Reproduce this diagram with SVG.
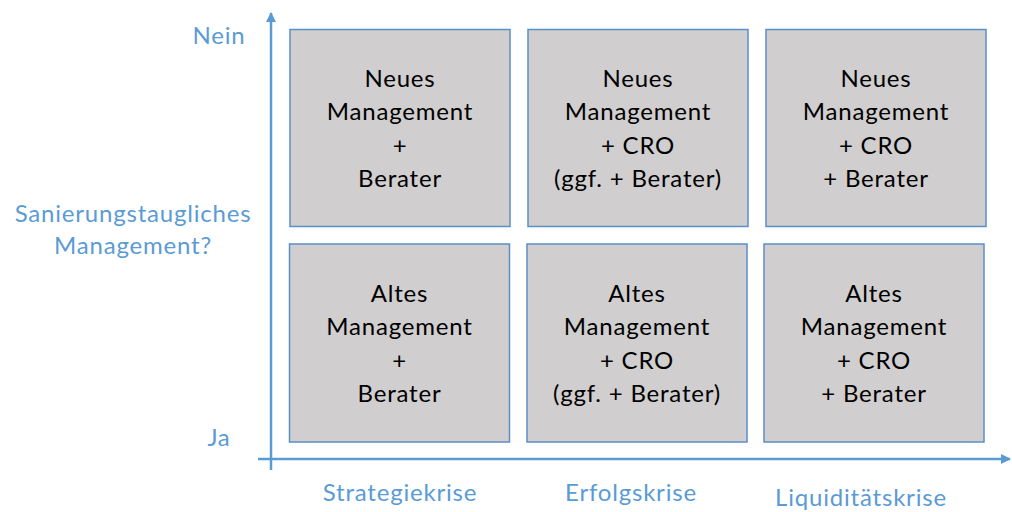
<svg xmlns="http://www.w3.org/2000/svg" width="1012" height="512" viewBox="0 0 1012 512">
<defs>
<marker id="arr" viewBox="0 0 10 10" refX="9" refY="5" markerWidth="4" markerHeight="4" orient="auto" markerUnits="strokeWidth">
<path d="M0,0 L10,5 L0,10 z" fill="#5B9BD5"/>
</marker>
<style>
.box{fill:#D0CECE;stroke:#5B8FC8;stroke-width:1.5}
.t{font-family:Lato,"Open Sans",sans-serif;font-size:24px;letter-spacing:0.8px;fill:#000;text-anchor:middle}
.ax{font-family:Lato,"Open Sans",sans-serif;font-size:24px;letter-spacing:0.8px;fill:#5B9BD5;text-anchor:middle}
.axis{stroke:#5B9BD5;stroke-width:2.5;fill:none}
</style>
</defs>
<rect width="1012" height="512" fill="#fff"/>
<g id="connectors">
<line class="axis" x1="271" y1="470" x2="271" y2="13" marker-end="url(#arr)"/>
<line class="axis" x1="258" y1="459" x2="1010" y2="459" marker-end="url(#arr)"/>
</g>
<g id="labels">
<text class="ax" x="219" y="44">Nein</text>
<text class="ax" x="219" y="446">Ja</text>
<text class="ax" x="133" y="222">Sanierungstaugliches</text>
<text class="ax" x="133" y="254">Management?</text>
<text class="ax" x="400" y="501">Strategiekrise</text>
<text class="ax" x="631" y="501">Erfolgskrise</text>
<text class="ax" x="861" y="506">Liquiditätskrise</text>
</g>
<g id="n1"><rect class="box" x="290" y="29.5" width="220" height="197"/>
<text class="t" x="400" y="87">Neues</text><text class="t" x="400" y="120">Management</text><text class="t" x="400" y="153.5">+</text><text class="t" x="400" y="187">Berater</text></g>
<g id="n2"><rect class="box" x="528" y="29.5" width="220" height="197"/>
<text class="t" x="638" y="87">Neues</text><text class="t" x="638" y="120">Management</text><text class="t" x="638" y="153.5">+ CRO</text><text class="t" x="638" y="187">(ggf. + Berater)</text></g>
<g id="n3"><rect class="box" x="766" y="29.5" width="220" height="197"/>
<text class="t" x="876" y="87">Neues</text><text class="t" x="876" y="120">Management</text><text class="t" x="876" y="153.5">+ CRO</text><text class="t" x="876" y="187">+ Berater</text></g>
<g id="n4"><rect class="box" x="289.5" y="244" width="220" height="198"/>
<text class="t" x="399.5" y="302">Altes</text><text class="t" x="399.5" y="335">Management</text><text class="t" x="399.5" y="368.5">+</text><text class="t" x="399.5" y="402">Berater</text></g>
<g id="n5"><rect class="box" x="527" y="244" width="220" height="198"/>
<text class="t" x="637" y="302">Altes</text><text class="t" x="637" y="335">Management</text><text class="t" x="637" y="368.5">+ CRO</text><text class="t" x="637" y="402">(ggf. + Berater)</text></g>
<g id="n6"><rect class="box" x="764" y="244" width="220" height="198"/>
<text class="t" x="874" y="302">Altes</text><text class="t" x="874" y="335">Management</text><text class="t" x="874" y="368.5">+ CRO</text><text class="t" x="874" y="402">+ Berater</text></g>
</svg>
